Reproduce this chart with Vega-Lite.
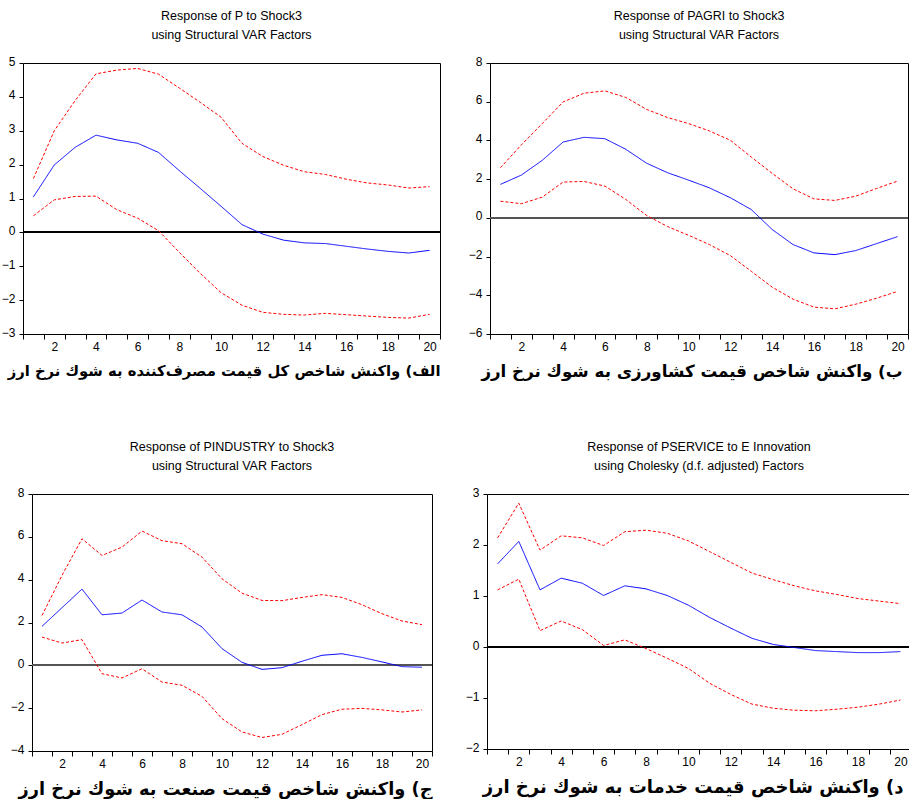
{
  "$schema": "https://vega.github.io/schema/vega-lite/v6.json",
  "background": "white",
  "padding": {"left": 0, "top": 9, "right": 0, "bottom": 0},
  "datasets": {
    "p": [
      {"h": 1, "r": 1.05, "lo": 0.49, "hi": 1.59},
      {"h": 2, "r": 1.99, "lo": 0.96, "hi": 3.0},
      {"h": 3, "r": 2.51, "lo": 1.06, "hi": 3.89},
      {"h": 4, "r": 2.87, "lo": 1.07, "hi": 4.68},
      {"h": 5, "r": 2.73, "lo": 0.67, "hi": 4.79},
      {"h": 6, "r": 2.63, "lo": 0.42, "hi": 4.84},
      {"h": 7, "r": 2.36, "lo": 0.05, "hi": 4.67},
      {"h": 8, "r": 1.82, "lo": -0.59, "hi": 4.26},
      {"h": 9, "r": 1.3, "lo": -1.21, "hi": 3.84},
      {"h": 10, "r": 0.77, "lo": -1.78, "hi": 3.4},
      {"h": 11, "r": 0.23, "lo": -2.15, "hi": 2.63},
      {"h": 12, "r": -0.05, "lo": -2.36, "hi": 2.24},
      {"h": 13, "r": -0.23, "lo": -2.42, "hi": 1.98},
      {"h": 14, "r": -0.31, "lo": -2.44, "hi": 1.79},
      {"h": 15, "r": -0.33, "lo": -2.39, "hi": 1.71},
      {"h": 16, "r": -0.41, "lo": -2.43, "hi": 1.57},
      {"h": 17, "r": -0.49, "lo": -2.47, "hi": 1.46},
      {"h": 18, "r": -0.56, "lo": -2.51, "hi": 1.4},
      {"h": 19, "r": -0.61, "lo": -2.53, "hi": 1.31},
      {"h": 20, "r": -0.53, "lo": -2.42, "hi": 1.35}
    ],
    "pagri": [
      {"h": 1, "r": 1.73, "lo": 0.86, "hi": 2.59},
      {"h": 2, "r": 2.21, "lo": 0.73, "hi": 3.77},
      {"h": 3, "r": 2.97, "lo": 1.07, "hi": 4.87},
      {"h": 4, "r": 3.92, "lo": 1.85, "hi": 5.99},
      {"h": 5, "r": 4.16, "lo": 1.88, "hi": 6.44},
      {"h": 6, "r": 4.09, "lo": 1.64, "hi": 6.56},
      {"h": 7, "r": 3.54, "lo": 0.95, "hi": 6.22},
      {"h": 8, "r": 2.82, "lo": 0.12, "hi": 5.6},
      {"h": 9, "r": 2.33, "lo": -0.45, "hi": 5.18},
      {"h": 10, "r": 1.95, "lo": -0.9, "hi": 4.87},
      {"h": 11, "r": 1.55, "lo": -1.38, "hi": 4.49},
      {"h": 12, "r": 1.04, "lo": -1.95, "hi": 4.01},
      {"h": 13, "r": 0.43, "lo": -2.76, "hi": 3.14},
      {"h": 14, "r": -0.6, "lo": -3.58, "hi": 2.3},
      {"h": 15, "r": -1.38, "lo": -4.2, "hi": 1.5},
      {"h": 16, "r": -1.81, "lo": -4.61, "hi": 0.98},
      {"h": 17, "r": -1.9, "lo": -4.7, "hi": 0.9},
      {"h": 18, "r": -1.69, "lo": -4.46, "hi": 1.12},
      {"h": 19, "r": -1.33, "lo": -4.15, "hi": 1.52},
      {"h": 20, "r": -0.97, "lo": -3.8, "hi": 1.9}
    ],
    "pindustry": [
      {"h": 1, "r": 1.82, "lo": 1.32, "hi": 2.33},
      {"h": 2, "r": 2.69, "lo": 1.04, "hi": 4.2},
      {"h": 3, "r": 3.56, "lo": 1.2, "hi": 5.91},
      {"h": 4, "r": 2.36, "lo": -0.39, "hi": 5.13},
      {"h": 5, "r": 2.44, "lo": -0.59, "hi": 5.52},
      {"h": 6, "r": 3.05, "lo": -0.16, "hi": 6.27},
      {"h": 7, "r": 2.49, "lo": -0.78, "hi": 5.82},
      {"h": 8, "r": 2.36, "lo": -0.93, "hi": 5.68},
      {"h": 9, "r": 1.79, "lo": -1.45, "hi": 5.05},
      {"h": 10, "r": 0.78, "lo": -2.49, "hi": 4.04},
      {"h": 11, "r": 0.14, "lo": -3.11, "hi": 3.37},
      {"h": 12, "r": -0.19, "lo": -3.37, "hi": 3.03},
      {"h": 13, "r": -0.11, "lo": -3.22, "hi": 3.02},
      {"h": 14, "r": 0.19, "lo": -2.77, "hi": 3.17},
      {"h": 15, "r": 0.47, "lo": -2.3, "hi": 3.3},
      {"h": 16, "r": 0.54, "lo": -2.05, "hi": 3.17},
      {"h": 17, "r": 0.37, "lo": -2.01, "hi": 2.83},
      {"h": 18, "r": 0.16, "lo": -2.08, "hi": 2.41},
      {"h": 19, "r": -0.06, "lo": -2.18, "hi": 2.07},
      {"h": 20, "r": -0.09, "lo": -2.08, "hi": 1.9}
    ],
    "pservice": [
      {"h": 1, "r": 1.63, "lo": 1.12, "hi": 2.14},
      {"h": 2, "r": 2.07, "lo": 1.33, "hi": 2.82},
      {"h": 3, "r": 1.12, "lo": 0.32, "hi": 1.9},
      {"h": 4, "r": 1.35, "lo": 0.51, "hi": 2.18},
      {"h": 5, "r": 1.25, "lo": 0.34, "hi": 2.14},
      {"h": 6, "r": 1.01, "lo": 0.03, "hi": 1.99},
      {"h": 7, "r": 1.2, "lo": 0.14, "hi": 2.26},
      {"h": 8, "r": 1.14, "lo": -0.03, "hi": 2.29},
      {"h": 9, "r": 1.01, "lo": -0.22, "hi": 2.23},
      {"h": 10, "r": 0.82, "lo": -0.42, "hi": 2.08},
      {"h": 11, "r": 0.58, "lo": -0.71, "hi": 1.87},
      {"h": 12, "r": 0.37, "lo": -0.93, "hi": 1.66},
      {"h": 13, "r": 0.17, "lo": -1.12, "hi": 1.45},
      {"h": 14, "r": 0.05, "lo": -1.2, "hi": 1.32},
      {"h": 15, "r": -0.01, "lo": -1.24, "hi": 1.2},
      {"h": 16, "r": -0.07, "lo": -1.25, "hi": 1.1},
      {"h": 17, "r": -0.09, "lo": -1.22, "hi": 1.03},
      {"h": 18, "r": -0.11, "lo": -1.18, "hi": 0.95},
      {"h": 19, "r": -0.11, "lo": -1.12, "hi": 0.9},
      {"h": 20, "r": -0.09, "lo": -1.04, "hi": 0.85}
    ]
  },
  "config": {
    "view": {"stroke": "black", "strokeWidth": 1},
    "title": {"font": "Liberation Sans", "fontSize": 12.5, "fontWeight": "normal", "color": "black", "lineHeight": 19, "offset": 14, "anchor": "middle"},
    "axis": {"domain": false, "grid": false, "tickColor": "black", "tickWidth": 1, "tickCount": 100, "labelFont": "Liberation Sans", "labelFontSize": 12, "labelColor": "black", "labelFlush": false, "labelOverlap": false, "labelBound": false},
    "axisY": {"tickSize": 4, "labelPadding": 4, "labelOffset": -2, "title": null, "format": "d"},
    "axisX": {"tickSize": 5, "labelPadding": 2, "titleFont": "DejaVu Sans", "titleFontSize": 14.8, "titleFontWeight": "bold", "titleColor": "black", "titleAnchor": "end", "titleAlign": "right", "titlePadding": 11}
  },
  "vconcat": [
    {
      "bounds": "flush",
      "spacing": 50,
      "hconcat": [
        {
          "width": 417, "height": 271,
          "title": {"text": ["Response of P to Shock3", "using Structural VAR Factors"]},
          "data": {"name": "p"},
          "transform": [{"fold": ["hi", "lo", "r"], "as": ["s", "v"]}],
          "layer": [
            {"mark": {"type": "rule", "color": "black", "strokeWidth": 1}, "encoding": {"y": {"datum": 0, "type": "quantitative"}}},
            {
              "mark": {"type": "line", "strokeWidth": 1},
              "encoding": {
                "x": {"field": "h", "type": "quantitative", "scale": {"domain": [0.5, 20.5], "nice": false, "zero": false},
                  "axis": {"values": [0.5,1.5,2.5,3.5,4.5,5.5,6.5,7.5,8.5,9.5,10.5,11.5,12.5,13.5,14.5,15.5,16.5,17.5,18.5,19.5,20.5],
                    "labelExpr": "(datum.value + 0.5) % 2 == 0 && datum.value < 20 ? format(datum.value + 0.5, 'd') : ''",
                    "labelOffset": 10.4, "labelOverlap": false, "tickCount": 100, "titleFontSize": 14.8,
                    "title": "الف) واكنش شاخص كل قیمت مصرف‌كننده به شوك نرخ ارز"}},
                "y": {"field": "v", "type": "quantitative", "scale": {"domain": [-3, 5], "nice": false, "zero": false}, "axis": {"values": [-3,-2,-1,0,1,2,3,4,5], "format": "d", "labelOverlap": false, "tickCount": 100}},
                "color": {"field": "s", "type": "nominal", "scale": {"domain": ["hi", "lo", "r"], "range": ["#ff0000", "#ff0000", "#0000ff"]}, "legend": null},
                "strokeDash": {"field": "s", "type": "nominal", "scale": {"domain": ["hi", "lo", "r"], "range": [[3, 2], [3, 2], [1, 0]]}, "legend": null}
              }
            }
          ]
        },
        {
          "width": 418, "height": 271,
          "title": {"text": ["Response of PAGRI to Shock3", "using Structural VAR Factors"]},
          "data": {"name": "pagri"},
          "transform": [{"fold": ["hi", "lo", "r"], "as": ["s", "v"]}],
          "layer": [
            {"mark": {"type": "rule", "color": "#555555", "strokeWidth": 1.5}, "encoding": {"y": {"datum": 0, "type": "quantitative"}}},
            {
              "mark": {"type": "line", "strokeWidth": 1},
              "encoding": {
                "x": {"field": "h", "type": "quantitative", "scale": {"domain": [0.5, 20.5], "nice": false, "zero": false},
                  "axis": {"values": [0.5,1.5,2.5,3.5,4.5,5.5,6.5,7.5,8.5,9.5,10.5,11.5,12.5,13.5,14.5,15.5,16.5,17.5,18.5,19.5,20.5],
                    "labelExpr": "(datum.value + 0.5) % 2 == 0 && datum.value < 20 ? format(datum.value + 0.5, 'd') : ''",
                    "labelOffset": 10.45, "labelOverlap": false, "tickCount": 100, "titleX": 412, "titleFontSize": 16.7,
                    "title": "ب) واكنش شاخص قیمت كشاورزی به شوك نرخ ارز"}},
                "y": {"field": "v", "type": "quantitative", "scale": {"domain": [-6, 8], "nice": false, "zero": false}, "axis": {"values": [-6,-4,-2,0,2,4,6,8], "format": "d", "labelOverlap": false, "tickCount": 100}},
                "color": {"field": "s", "type": "nominal", "scale": {"domain": ["hi", "lo", "r"], "range": ["#ff0000", "#ff0000", "#0000ff"]}, "legend": null},
                "strokeDash": {"field": "s", "type": "nominal", "scale": {"domain": ["hi", "lo", "r"], "range": [[3, 2], [3, 2], [1, 0]]}, "legend": null}
              }
            }
          ]
        }
      ]
    },
    {
      "bounds": "flush",
      "spacing": 0,
      "hconcat": [
        {"width": 9, "height": 1, "data": {"values": []}, "mark": "point", "view": {"stroke": null}},
        {
          "width": 400, "height": 257,
          "title": {"text": ["Response of PINDUSTRY to Shock3", "using Structural VAR Factors"]},
          "data": {"name": "pindustry"},
          "transform": [{"fold": ["hi", "lo", "r"], "as": ["s", "v"]}],
          "layer": [
            {"mark": {"type": "rule", "color": "#555555", "strokeWidth": 1.5}, "encoding": {"y": {"datum": 0, "type": "quantitative"}}},
            {
              "mark": {"type": "line", "strokeWidth": 1},
              "encoding": {
                "x": {"field": "h", "type": "quantitative", "scale": {"domain": [0.5, 20.5], "nice": false, "zero": false},
                  "axis": {"values": [0.5,1.5,2.5,3.5,4.5,5.5,6.5,7.5,8.5,9.5,10.5,11.5,12.5,13.5,14.5,15.5,16.5,17.5,18.5,19.5,20.5],
                    "labelExpr": "(datum.value + 0.5) % 2 == 0 && datum.value < 20 ? format(datum.value + 0.5, 'd') : ''",
                    "labelOffset": 10, "labelOverlap": false, "tickCount": 100, "titleFontSize": 17.8,
                    "title": "ج) واكنش شاخص قیمت صنعت به شوك نرخ ارز"}},
                "y": {"field": "v", "type": "quantitative", "scale": {"domain": [-4, 8], "nice": false, "zero": false}, "axis": {"values": [-4,-2,0,2,4,6,8], "format": "d", "labelOverlap": false, "tickCount": 100}},
                "color": {"field": "s", "type": "nominal", "scale": {"domain": ["hi", "lo", "r"], "range": ["#ff0000", "#ff0000", "#0000ff"]}, "legend": null},
                "strokeDash": {"field": "s", "type": "nominal", "scale": {"domain": ["hi", "lo", "r"], "range": [[3, 2], [3, 2], [1, 0]]}, "legend": null}
              }
            }
          ]
        },
        {"width": 55, "height": 1, "data": {"values": []}, "mark": "point", "view": {"stroke": null}},
        {
          "width": 424, "height": 255,
          "title": {"text": ["Response of PSERVICE to E Innovation", "using Cholesky (d.f. adjusted) Factors"]},
          "data": {"name": "pservice"},
          "transform": [{"fold": ["hi", "lo", "r"], "as": ["s", "v"]}],
          "layer": [
            {"mark": {"type": "rule", "color": "black", "strokeWidth": 1}, "encoding": {"y": {"datum": 0, "type": "quantitative"}}},
            {
              "mark": {"type": "line", "strokeWidth": 1},
              "encoding": {
                "x": {"field": "h", "type": "quantitative", "scale": {"domain": [0.5, 20.5], "nice": false, "zero": false},
                  "axis": {"values": [0.5,1.5,2.5,3.5,4.5,5.5,6.5,7.5,8.5,9.5,10.5,11.5,12.5,13.5,14.5,15.5,16.5,17.5,18.5,19.5,20.5],
                    "labelExpr": "(datum.value + 0.5) % 2 == 0 && datum.value < 20 ? format(datum.value + 0.5, 'd') : ''",
                    "labelOffset": 10.6, "labelOverlap": false, "tickCount": 100, "titleX": 416, "titleFontSize": 18,
                    "title": "د) واكنش شاخص قیمت خدمات به شوك نرخ ارز"}},
                "y": {"field": "v", "type": "quantitative", "scale": {"domain": [-2, 3], "nice": false, "zero": false}, "axis": {"values": [-2,-1,0,1,2,3], "format": "d", "labelOverlap": false, "tickCount": 100}},
                "color": {"field": "s", "type": "nominal", "scale": {"domain": ["hi", "lo", "r"], "range": ["#ff0000", "#ff0000", "#0000ff"]}, "legend": null},
                "strokeDash": {"field": "s", "type": "nominal", "scale": {"domain": ["hi", "lo", "r"], "range": [[3, 2], [3, 2], [1, 0]]}, "legend": null}
              }
            }
          ]
        }
      ]
    }
  ],
  "spacing": 59
}
